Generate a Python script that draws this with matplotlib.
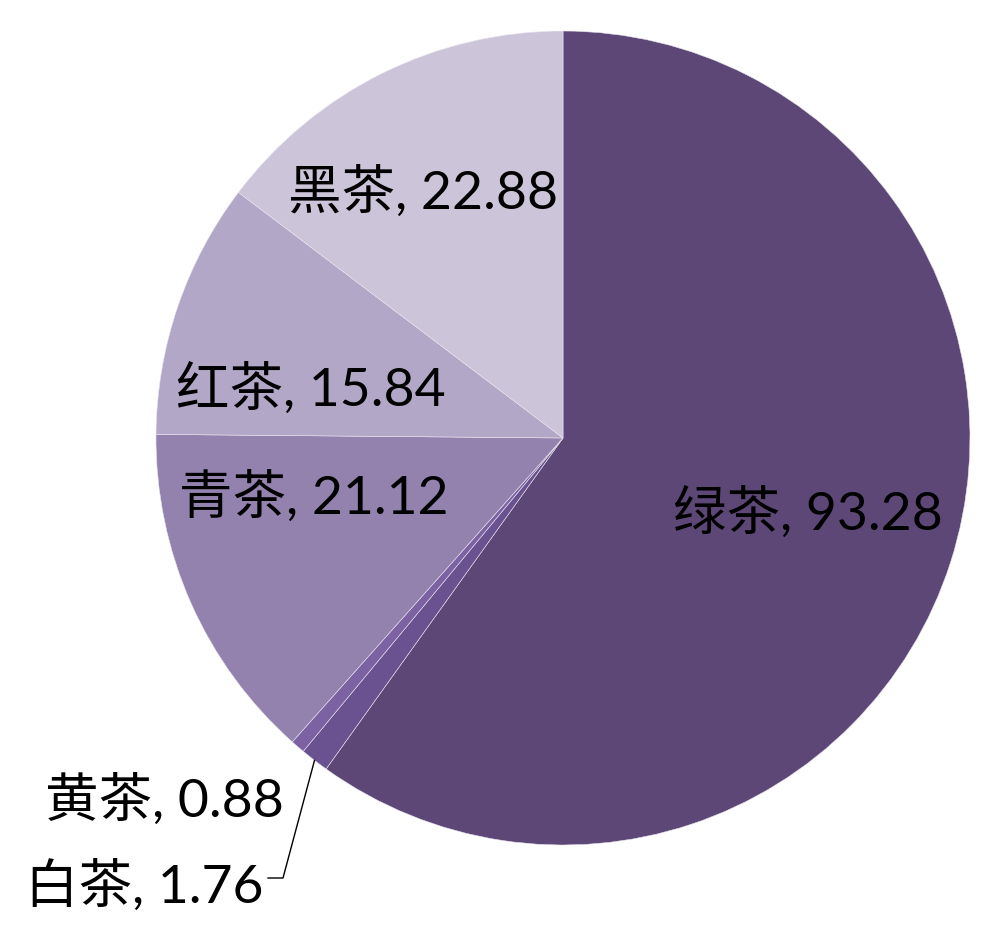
import numpy as np
import matplotlib
matplotlib.use('Agg')
from matplotlib import pyplot as plt

plt.rcParams['font.family'] = ['Lato', 'Noto Sans CJK SC', 'DejaVu Sans']

# data, clockwise from 12 o'clock
names = ['绿茶', '白茶', '黄茶', '青茶', '红茶', '黑茶']
values = [93.28, 1.76, 0.88, 21.12, 15.84, 22.88]
colors = ['#5D4776', '#6A5190', '#7C62A3', '#9381AE', '#B3A7C7', '#CCC5D9']

W, H = 1000, 941
cx, cy, R = 563, 438, 407   # pie centre / radius in pixels

fig = plt.figure(figsize=(W / 100, H / 100), dpi=100)
ax = fig.add_axes([0, 0, 1, 1])

wedges, _ = ax.pie(values, colors=colors, startangle=90, counterclock=False,
                   radius=1, center=(0, 0),
                   wedgeprops=dict(edgecolor='#E8E4EE', linewidth=0.4))

ax.set_xlim(-cx / R, (W - cx) / R)
ax.set_ylim(-(H - cy) / R, cy / R)
ax.set_aspect('auto')
ax.axis('off')


def px(x, y):
    return (x - cx) / R, (cy - y) / R


labels = ['%s, %.2f' % (n, v) for n, v in zip(names, values)]
fs = 38.5
# label positions (pixel centres)
label_pos = {
    0: (808, 513, 'center'),
    3: (314, 497, 'center'),
    4: (311, 389, 'center'),
    5: (423, 192, 'center'),
    2: (284, 800, 'right'),
    1: (263, 886, 'right'),
}
for i, (x, y, ha) in label_pos.items():
    tx, ty = px(x, y)
    ax.text(tx, ty, labels[i], fontsize=fs, ha=ha, va='center', color='black')

# leader line for 白茶
w = wedges[1]
mid = np.deg2rad((w.theta1 + w.theta2) / 2)
sx, sy = np.cos(mid), np.sin(mid)
kx, ky = px(283, 878)
ex, ey = px(268, 878)
ax.plot([sx, kx, ex], [sy, ky, ey], color='black', linewidth=1)

plt.savefig('out.png', dpi=100)
